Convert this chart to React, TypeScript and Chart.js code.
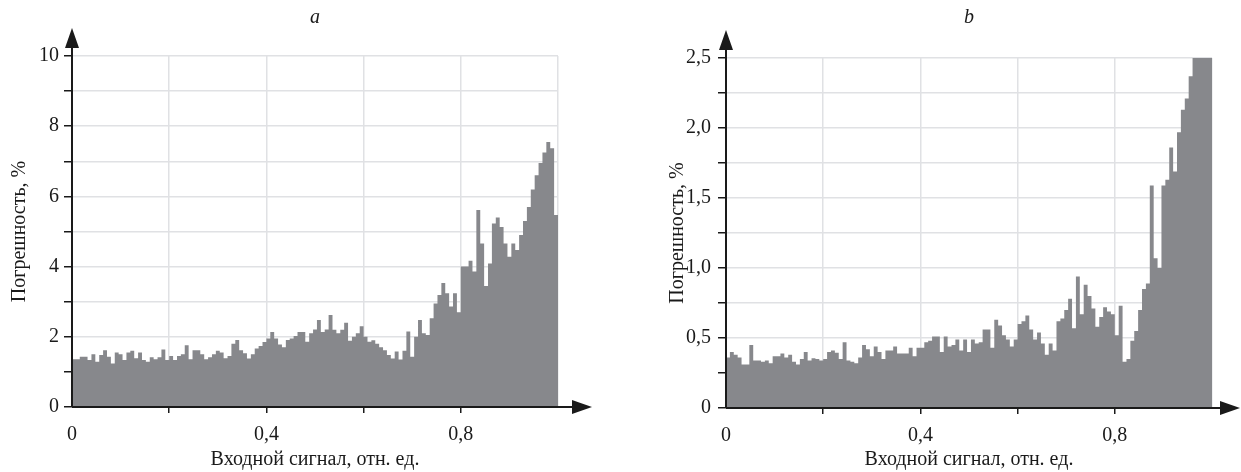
import React, { useEffect, useRef } from "react";
import { Chart, registerables } from "chart.js";

Chart.register(...registerables);

// ---- Data ----
const BIN_WIDTH = 0.008; // width of one input-signal bin, rel. units

// Panel a: error, %
const errorA = [
  1.36, 1.36, 1.43, 1.43, 1.34, 1.5, 1.29, 1.48, 1.62, 1.43,
  1.24, 1.55, 1.5, 1.34, 1.55, 1.6, 1.39, 1.55, 1.34, 1.29,
  1.42, 1.36, 1.42, 1.64, 1.34, 1.45, 1.34, 1.45, 1.5, 1.76,
  1.36, 1.62, 1.62, 1.5, 1.36, 1.42, 1.5, 1.6, 1.55, 1.39,
  1.45, 1.8, 1.91, 1.62, 1.53, 1.38, 1.5, 1.67, 1.74, 1.85,
  1.95, 2.14, 1.95, 1.78, 1.7, 1.91, 1.95, 2.02, 2.14, 2.14,
  1.86, 2.1, 2.21, 2.48, 2.14, 2.21, 2.62, 2.2, 2.1, 2.2,
  2.4, 1.89, 2.0, 2.1, 2.3, 2.0, 1.86, 1.9, 1.8, 1.7,
  1.62, 1.48, 1.38, 1.58, 1.35, 1.6, 2.15, 1.43, 2.0, 2.48,
  2.1, 2.05, 2.53, 2.95, 3.19, 3.53, 3.24, 2.86, 3.24, 2.7,
  4.0, 4.0, 4.17, 3.86, 5.61, 4.66, 3.45, 4.09, 5.23, 5.4,
  5.13, 4.66, 4.28, 4.66, 4.47, 4.9, 5.3, 5.7, 6.2, 6.6,
  6.95, 7.25, 7.55, 7.37, 5.47,
];

// Panel b: error, %
const errorB = [
  0.36, 0.4, 0.38, 0.36, 0.31, 0.31, 0.45, 0.34, 0.34, 0.33,
  0.34, 0.32, 0.37, 0.37, 0.39, 0.36, 0.38, 0.33, 0.31, 0.35,
  0.4, 0.34, 0.355, 0.35, 0.34, 0.35, 0.4, 0.41, 0.395, 0.35,
  0.47, 0.34, 0.33, 0.32, 0.36, 0.45, 0.42, 0.37, 0.44, 0.4,
  0.35, 0.41, 0.41, 0.44, 0.39, 0.39, 0.39, 0.43, 0.37, 0.43,
  0.43, 0.47, 0.48, 0.51, 0.51, 0.4, 0.51, 0.44, 0.45, 0.49,
  0.41, 0.49, 0.4, 0.49, 0.46, 0.47, 0.56, 0.56, 0.43, 0.63,
  0.59, 0.52, 0.49, 0.44, 0.49, 0.6, 0.62, 0.66, 0.56, 0.49,
  0.54, 0.46, 0.38, 0.46, 0.41, 0.62, 0.64, 0.7, 0.78, 0.57,
  0.94, 0.67, 0.88, 0.8, 0.71, 0.58, 0.65, 0.72, 0.69, 0.67,
  0.52, 0.73, 0.33, 0.35, 0.48, 0.55, 0.7, 0.85, 0.89, 1.59,
  1.07, 1.0, 1.59, 1.63, 1.86, 1.69, 1.97, 2.13, 2.21, 2.37,
  2.6, 2.8, 3.0, 3.1, 3.2,
];

const xLabelValues = [0, 0.4, 0.8];
const xLabelTexts = ["0", "0,4", "0,8"];
const yLabelValuesA = [0, 2, 4, 6, 8, 10];
const yLabelTextsA = ["0", "2", "4", "6", "8", "10"];
const yLabelValuesB = [0, 0.5, 1, 1.5, 2, 2.5];
const yLabelTextsB = ["0", "0,5", "1,0", "1,5", "2,0", "2,5"];

const X_TITLE = "Входной сигнал, отн. ед.";
const Y_TITLE = "Погрешность, %";

// ---- Styles ----
const FONT = "'Liberation Serif', 'Times New Roman', serif";
const TEXT = "#1a1a1a";
const BAR = "#87888c";
const GRID = "#e0e1e4";

function labelFor(values: number[], texts: string[], v: number) {
  const i = values.findIndex((x) => Math.abs(x - v) < 1e-6);
  return i >= 0 ? texts[i] : "";
}

const axisArrows = {
  id: "axisArrows",
  afterDatasetsDraw(chart: any, _args: any, opts: any) {
    const { ctx, chartArea } = chart;
    const { left, bottom } = chartArea;
    const xTip = opts.xTip;
    const yTip = opts.yTip;
    ctx.save();
    ctx.strokeStyle = TEXT;
    ctx.fillStyle = TEXT;
    ctx.lineWidth = 2;
    ctx.beginPath();
    ctx.moveTo(left, bottom);
    ctx.lineTo(xTip - 12, bottom);
    ctx.moveTo(left, bottom);
    ctx.lineTo(left, yTip + 12);
    ctx.stroke();
    ctx.beginPath();
    ctx.moveTo(xTip, bottom);
    ctx.lineTo(xTip - 20, bottom - 7);
    ctx.lineTo(xTip - 20, bottom + 7);
    ctx.closePath();
    ctx.fill();
    ctx.beginPath();
    ctx.moveTo(left, yTip);
    ctx.lineTo(left - 7, yTip + 20);
    ctx.lineTo(left + 7, yTip + 20);
    ctx.closePath();
    ctx.fill();
    ctx.restore();
  },
};

type PanelProps = {
  letter: string;
  values: number[];
  yMax: number;
  yStep: number;
  yLabelValues: number[];
  yLabelTexts: string[];
  canvasLeft: number;
  width: number;
  yAxisWidth: number;
  rightPad: number;
  topBox: number;
  xAxisHeight: number;
  xTip: number;
  yTip: number;
  yLabelPad: number;
  yTitlePad: number;
};

function Panel(p: PanelProps) {
  const ref = useRef<HTMLCanvasElement | null>(null);
  useEffect(() => {
    if (!ref.current) return;
    const pts = p.values.map((v, i) => ({ x: i * BIN_WIDTH, y: v }));
    pts.push({ x: p.values.length * BIN_WIDTH, y: p.values[p.values.length - 1] });
    const chart = new Chart(ref.current, {
      type: "line",
      data: {
        datasets: [
          {
            data: pts,
            stepped: "before",
            fill: "origin",
            backgroundColor: BAR,
            borderColor: BAR,
            borderWidth: 0,
            pointRadius: 0,
          },
        ],
      },
      options: {
        animation: false,
        responsive: false,
        devicePixelRatio: 1,
        layout: { padding: { left: 0, right: p.rightPad, top: 0, bottom: 0 } },
        plugins: {
          legend: { display: false },
          tooltip: { enabled: false },
          title: {
            display: true,
            text: p.letter,
            fullSize: false,
            color: TEXT,
            font: { family: FONT, size: 20, style: "italic", weight: "normal", lineHeight: 1.2 },
            padding: { top: 6, bottom: p.topBox - 30 },
          },
          axisArrows: { xTip: p.xTip, yTip: p.yTip },
        } as any,
        scales: {
          x: {
            type: "linear",
            min: 0,
            max: 1,
            afterFit: (s: any) => {
              s.height = p.xAxisHeight;
            },
            border: { display: false },
            grid: {
              color: GRID,
              lineWidth: 1.5,
              drawTicks: true,
              tickLength: 6,
              tickWidth: 1.5,
              tickColor: (c: any) =>
                c.tick && (c.tick.value < 0.01 || c.tick.value > 0.99) ? "rgba(0,0,0,0)" : TEXT,
            },
            ticks: {
              stepSize: 0.2,
              autoSkip: false,
              maxRotation: 0,
              padding: 10,
              color: TEXT,
              font: { family: FONT, size: 20, lineHeight: 1.2 },
              callback: (v: any) => labelFor(xLabelValues, xLabelTexts, Number(v)),
            },
            title: {
              display: true,
              text: X_TITLE,
              color: TEXT,
              font: { family: FONT, size: 20, lineHeight: 1.2 },
              padding: { top: 0, bottom: 0 },
            },
          },
          y: {
            type: "linear",
            min: 0,
            max: p.yMax,
            afterFit: (s: any) => {
              s.width = p.yAxisWidth;
            },
            border: { display: false },
            grid: {
              color: GRID,
              lineWidth: 1.5,
              drawTicks: true,
              tickLength: 8,
              tickWidth: 1.5,
              tickColor: TEXT,
            },
            ticks: {
              stepSize: p.yStep,
              autoSkip: false,
              padding: p.yLabelPad,
              color: TEXT,
              font: { family: FONT, size: 20, lineHeight: 1.2 },
              callback: (v: any) => labelFor(p.yLabelValues, p.yLabelTexts, Number(v)),
            },
            title: {
              display: true,
              text: Y_TITLE,
              color: TEXT,
              font: { family: FONT, size: 20, lineHeight: 1.2 },
              padding: { top: p.yTitlePad, bottom: 0 },
            },
          },
        },
      },
      plugins: [axisArrows as any],
    });
    return () => chart.destroy();
  }, []);
  return (
    <div style={{ position: "absolute", left: p.canvasLeft, top: 0, width: p.width, height: 472 }}>
      <canvas ref={ref} width={p.width} height={472} style={{ width: p.width, height: 472, display: "block" }} />
    </div>
  );
}

export default function App() {
  return (
    <div style={{ position: "absolute", left: 0, top: 0, width: 1241, height: 472, background: "#fff" }}>
      <Panel
        letter="a"
        values={errorA}
        yMax={10}
        yStep={1}
        yLabelValues={yLabelValuesA}
        yLabelTexts={yLabelTextsA}
        canvasLeft={0}
        width={620}
        yAxisWidth={72}
        rightPad={62}
        topBox={56}
        xAxisHeight={65}
        xTip={592}
        yTip={28}
        yLabelPad={5}
        yTitlePad={8}
      />
      <Panel
        letter="b"
        values={errorB}
        yMax={2.5}
        yStep={0.25}
        yLabelValues={yLabelValuesB}
        yLabelTexts={yLabelTextsB}
        canvasLeft={660}
        width={581}
        yAxisWidth={66}
        rightPad={29}
        topBox={58}
        xAxisHeight={64}
        xTip={580}
        yTip={30}
        yLabelPad={7}
        yTitlePad={6}
      />
    </div>
  );
}
